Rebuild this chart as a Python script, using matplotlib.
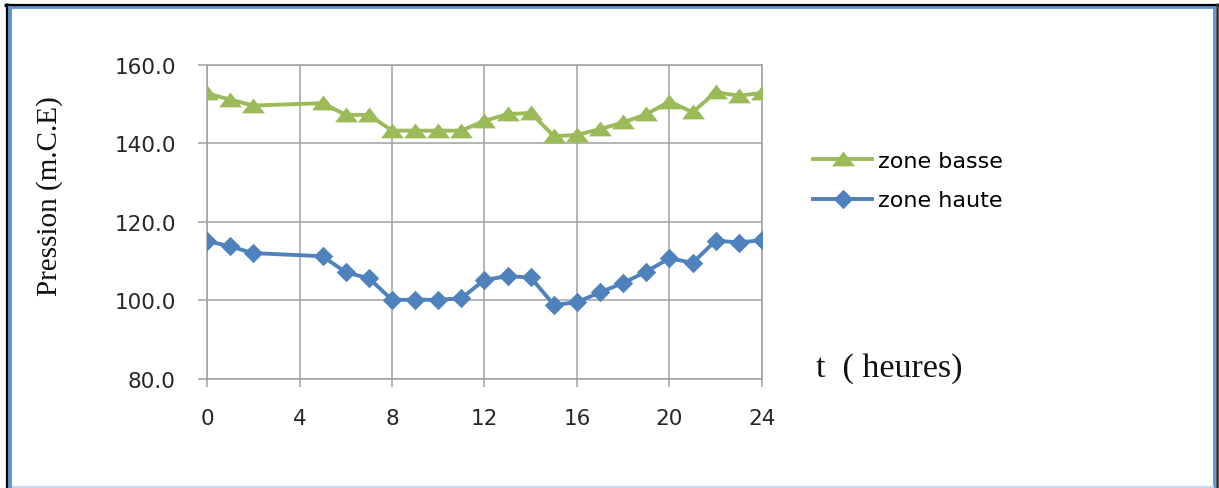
import matplotlib
matplotlib.use("Agg")
import matplotlib.pyplot as plt
from matplotlib.lines import Line2D

# Hours of the day and measured pressures (m.C.E)
hours = [0, 1, 2, 5, 6, 7, 8, 9, 10, 11, 12, 13, 14, 15, 16, 17, 18, 19, 20, 21, 22, 23, 24]
zone_basse = [152.7, 151.1, 149.6, 150.2, 147.2, 147.2, 143.2, 143.2, 143.2, 143.2, 145.7,
              147.4, 147.7, 141.8, 142.1, 143.6, 145.3, 147.4, 150.6, 147.9, 153.0, 152.1, 152.8]
zone_haute = [115.1, 113.7, 112.0, 111.2, 107.1, 105.6, 100.1, 100.1, 100.1, 100.5, 105.2,
              106.1, 105.8, 98.8, 99.5, 102.0, 104.4, 107.3, 110.7, 109.5, 115.2, 114.7, 115.3]
series_labels = ["zone basse", "zone haute"]
x_ticks = [0, 4, 8, 12, 16, 20, 24]
y_ticks = [80, 100, 120, 140, 160]

W, H = 1219, 489
fig = plt.figure(figsize=(W / 100, H / 100), dpi=100)
fig.patch.set_facecolor("white")

def px(x, y):
    return x / W, 1 - y / H

ax = fig.add_axes([207 / W, 1 - 379.7 / H, 555 / W, 314 / H])

GREEN = "#9BBB59"
BLUE = "#4F81BD"
GRID = "#A0A0A0"

tri = [(-1, -0.6), (1, -0.6), (0, 0.7), (-1, -0.6)]
diamond = [(0, 1), (1, 0), (0, -1), (-1, 0), (0, 1)]

ax.plot(hours, zone_basse, color=GREEN, lw=2.8, marker=tri, ms=16.5,
        markeredgewidth=0, label=series_labels[0], zorder=3)
ax.plot(hours, zone_haute, color=BLUE, lw=2.8, marker=diamond, ms=14,
        markeredgewidth=0, label=series_labels[1], zorder=3)

ax.set_xlim(0, 24)
ax.set_ylim(80, 160)
ax.set_xticks(x_ticks)
ax.set_yticks(y_ticks)
ax.set_yticklabels([f"{v:.1f}" for v in y_ticks])
ax.grid(True, color=GRID, lw=1.1)
ax.set_axisbelow(True)
for s in ax.spines.values():
    s.set_color(GRID)
    s.set_linewidth(1.1)
ax.tick_params(axis="both", colors=GRID, labelcolor="#262626", labelsize=15.5,
               direction="out", width=1.1)
ax.tick_params(axis="x", length=6, pad=15)
ax.tick_params(axis="y", length=6.5, pad=16)
for lab in ax.get_xticklabels() + ax.get_yticklabels():
    lab.set_family("DejaVu Sans")

fig.text(*px(50, 196), "Pression (m.C.E)", rotation=90, ha="center", va="center",
         family="Liberation Serif", fontsize=21, color="#111111")
fig.text(*px(816, 377), "t  ( heures)", ha="left", va="baseline",
         family="Liberation Serif", fontsize=24.5, color="#111111")

ax.legend(loc="upper left", bbox_to_anchor=px(813, 152), bbox_transform=fig.transFigure,
          frameon=False, borderpad=0, borderaxespad=0, handlelength=2.66,
          handletextpad=0.27, labelspacing=0.87, prop={"family": "DejaVu Sans", "size": 16})

# Frame around the figure
def fline(xs, ys, color, lw):
    fig.add_artist(Line2D([x / W for x in xs], [1 - y / H for y in ys],
                          color=color, lw=lw, transform=fig.transFigure,
                          solid_capstyle="butt"))

fline([6.5, 6.5], [4, 489], "#000000", 2.3)
fline([4, 1219], [5.5, 5.5], "#000000", 2.3)
fline([1217.2, 1217.2], [4, 489], "#2B2B2B", 1.8)
fline([10, 10], [7, 489], "#5F93D2", 2.8)
fline([8, 1216], [8.3, 8.3], "#5F93D2", 2.0)
fline([1214.3, 1214.3], [7, 489], "#5F93D2", 2.0)
fline([12, 1214], [488.3, 488.3], "#C6D9F0", 1.6)

fig.savefig("out.png", dpi=100, facecolor="white")
